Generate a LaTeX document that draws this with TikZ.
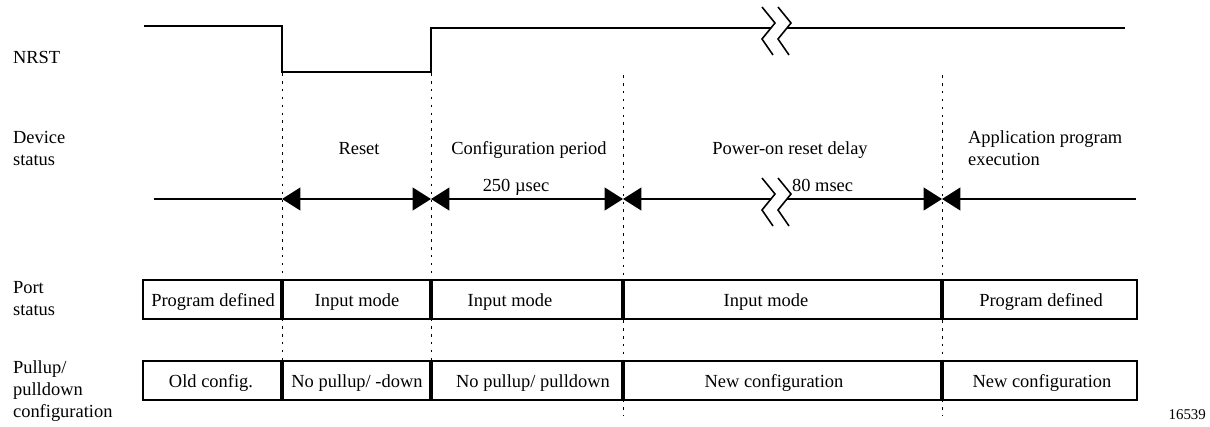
\documentclass[tikz,border=0pt]{standalone}
\usepackage{fontspec}
\setmainfont{Liberation Serif}
\usetikzlibrary{arrows.meta}

\begin{document}
\begin{tikzpicture}
		[x=0.02cm, y=-0.02cm, >={Triangle[length=10.5pt, width=13pt]},
		every node/.style={inner sep=1pt, font=\fontsize{10.5}{12.5}\selectfont},
		lbl/.style={anchor=west, align=left},
		txt/.style={anchor=base},
		signal/.style={line width=1.7pt},
		axis/.style={line width=1.1pt},
		cell/.style={line width=1.1pt},
		marker/.style={line width=0.5pt, dash pattern=on 1.5pt off 3pt},
		breakline/.style={line width=0.9pt}]
		\useasboundingbox (0,0) rectangle (1210,426);
		
		% row labels
		\node[lbl] (nrst) at (11,57) {NRST};
		\node[lbl] (dev) at (11,148) {Device\\status};
		\node[lbl] (port) at (11,299) {Port\\status};
		\node[lbl] (pull) at (11,391) {Pullup/\\pulldown\\configuration};
		
		% NRST waveform
		\draw[signal] (144,26) -- (282,26) -- (282,72) -- (431,72) -- (431,28) -- (771,28);
		\draw[signal] (787,28) -- (1125,28);
		\foreach \y in {7,178}
			\foreach \dx in {0,16}
				\draw[breakline] (762+\dx,\y) -- ++(13,16) -- ++(-13,16) -- ++(11,16);
		
		% phase boundaries
		\foreach \x/\a/\b in {282/73/400, 431/73/405, 623/75/415, 942/75/415}
			\draw[marker] (\x,\a) -- (\x,\b);
		
		% device status
		\coordinate (start) at (154,199);
		\coordinate (t1) at (282,199);
		\coordinate (t2) at (431,199);
		\coordinate (t3) at (623,199);
		\coordinate (cutL) at (771,199);
		\coordinate (cutR) at (787,199);
		\coordinate (t4) at (942,199);
		\coordinate (stop) at (1136,199);
		\draw[axis] (start) -- (t1);
		\draw[axis, <->] (t1) -- (t2);
		\draw[axis, <->] (t2) -- (t3);
		\draw[axis, <-] (t3) -- (cutL);
		\draw[axis, ->] (cutR) -- (t4);
		\draw[axis, <-] (t4) -- (stop);
		
		\node[txt] (reset) at (359,154) {Reset};
		\node[txt] (config) at (529,154) {Configuration period};
		\node[txt] (cfgtime) at (516,191) {250 µsec};
		\node[txt] (delay) at (790,154) {Power-on reset delay};
		\node[anchor=base west] (delaytime) at (790,191) {80 msec};
		\node[lbl] (app) at (966,148) {Application program\\execution};
		
		% port status and pullup rows
		\foreach \a/\b in {143/281, 283/430, 432/622, 624/941, 943/1137} {
			\draw[cell] (\a,280) rectangle (\b,319);
			\draw[cell] (\a,361) rectangle (\b,400);
		}
		\draw[line width=1.7pt] (283,280) rectangle (430,319);
		
		\node[txt] (portA) at (213,306) {Program defined};
		\node[txt] (portB) at (357,306) {Input mode};
		\node[txt] (portC) at (510,306) {Input mode};
		\node[txt] (portD) at (766,306) {Input mode};
		\node[txt] (portE) at (1041,306) {Program defined};
		
		\node[txt] (pullA) at (211,387) {Old config.};
		\node[txt] (pullB) at (357,387) {No pullup/ -down};
		\node[txt] (pullC) at (533,387) {No pullup/ pulldown};
		\node[txt] (pullD) at (774,387) {New configuration};
		\node[txt] (pullE) at (1042,387) {New configuration};
		
		\node[anchor=base east, font=\fontsize{8.5}{10}\selectfont] (fignum) at (1208,419) {16539};
		\end{tikzpicture}
\end{document}
